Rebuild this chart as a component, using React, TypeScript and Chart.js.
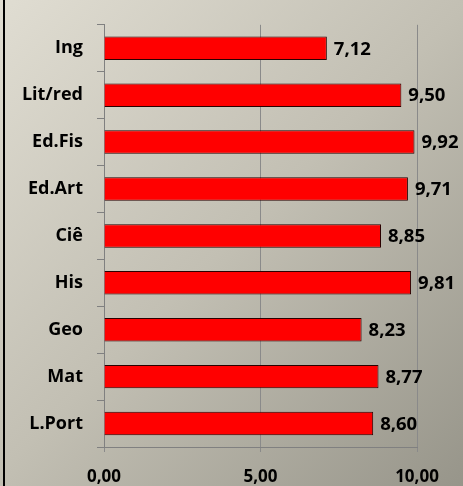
import React, { useEffect, useRef } from "react";
import { Chart, registerables } from "chart.js";

Chart.register(...registerables);

const categories = ["Ing", "Lit/red", "Ed.Fis", "Ed.Art", "Ciê", "His", "Geo", "Mat", "L.Port"];
const values = [7.12, 9.5, 9.92, 9.71, 8.85, 9.81, 8.23, 8.77, 8.6];
const xTicks = [0, 5, 10];

const fmt = (v: number) => v.toFixed(2).replace(".", ",");

const valueLabels = {
  id: "valueLabels",
  afterDatasetsDraw(chart: any) {
    const ctx = chart.ctx;
    const meta = chart.getDatasetMeta(0);
    ctx.save();
    ctx.font = "bold 18.5px 'Open Sans'";
    ctx.fillStyle = "#000";
    ctx.textAlign = "left";
    ctx.textBaseline = "middle";
    meta.data.forEach((el: any, i: number) => {
      ctx.fillText(fmt(values[i]), el.x + 7, el.y + 1);
    });
    ctx.restore();
  },
};

export default function App() {
  const ref = useRef<HTMLCanvasElement>(null);
  useEffect(() => {
    const chart = new Chart(ref.current!, {
      type: "bar",
      data: {
        labels: categories,
        datasets: [
          {
            data: values,
            backgroundColor: "#FF0000",
            borderColor: "#2a0000",
            borderWidth: 1,
            barPercentage: 0.5,
            categoryPercentage: 1,
          },
        ],
      },
      options: {
        indexAxis: "y",
        animation: false,
        responsive: false,
        maintainAspectRatio: false,
        layout: { padding: { left: 0, right: 46, top: 10, bottom: 0 } },
        plugins: { legend: { display: false }, tooltip: { enabled: false } },
        scales: {
          x: {
            min: 0,
            max: 10,
            afterBuildTicks: (s: any) => {
              s.ticks = xTicks.map((v) => ({ value: v }));
            },
            afterFit: (s: any) => {
              s.height = 39;
            },
            border: { color: "#808080", width: 1 },
            grid: { color: "#8a8a8a", lineWidth: 1, tickLength: 5 },
            ticks: {
              font: { family: "'Open Sans'", size: 17, weight: "bold" },
              color: "#000",
              padding: 15,
              maxRotation: 0,
              callback: (v: any) => fmt(Number(v)),
            },
          },
          y: {
            afterFit: (s: any) => {
              s.width = 104;
            },
            border: { color: "#808080", width: 1 },
            grid: { offset: true, drawOnChartArea: false, color: "#808080", lineWidth: 1, tickLength: 7 },
            ticks: {
              font: { family: "'Open Sans'", size: 18, weight: "bold" },
              color: "#000",
              padding: 14,
            },
          },
        },
      },
      plugins: [valueLabels],
    } as any);
    return () => chart.destroy();
  }, []);
  return (
    <div
      style={{
        position: "absolute",
        left: 0,
        top: 0,
        width: 463,
        height: 486,
        background: "linear-gradient(135deg, #e0ddd2 0%, #c2bfb3 50%, #97958a 100%)",
      }}
    >
      <div style={{ position: "absolute", left: 3, top: 0, width: 2, height: 486, background: "#000" }} />
      <canvas ref={ref} width={463} height={486} style={{ position: "absolute", left: 0, top: 0 }} />
    </div>
  );
}
